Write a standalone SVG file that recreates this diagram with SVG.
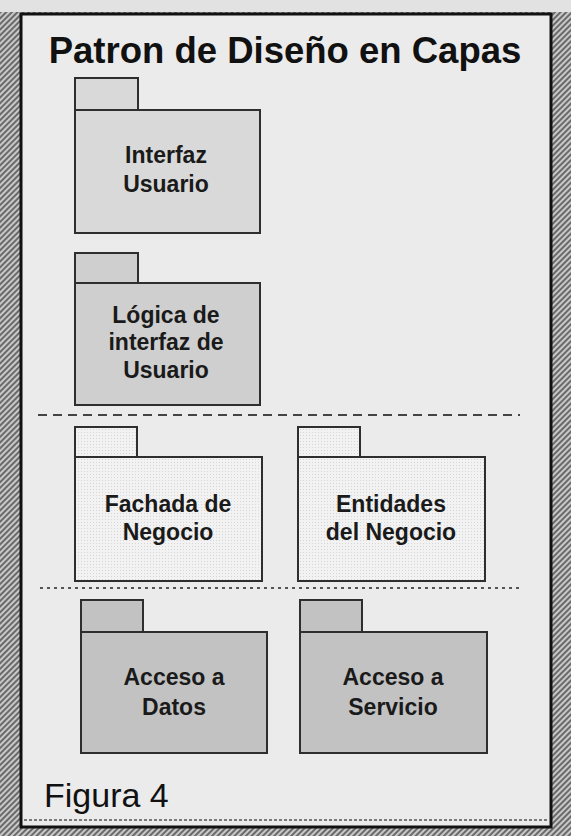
<svg xmlns="http://www.w3.org/2000/svg" width="571" height="836" viewBox="0 0 571 836">
<defs>
<pattern id="hatch" width="4" height="4" patternUnits="userSpaceOnUse" patternTransform="rotate(45)">
<rect width="4" height="4" fill="#c8c8c8"/>
<rect width="2" height="4" fill="#6a6a6a"/>
</pattern>
<pattern id="dots" width="3" height="3" patternUnits="userSpaceOnUse">
<rect width="3" height="3" fill="#f2f2f2"/>
<rect width="1" height="1" fill="#d6d6d6"/>
</pattern>
</defs>
<style>
.pk{stroke:#2e2e2e;stroke-width:2;}
.light{fill:#d9d9d9;}
.mid{fill:#cfcfcf;}
.white{fill:url(#dots);}
.dark{fill:#c2c2c2;}
.lbl{font-family:"Liberation Sans",Arial,sans-serif;font-weight:bold;font-size:23px;fill:#1a1a1a;text-anchor:middle;}
</style>
<rect x="0" y="0" width="571" height="836" fill="url(#hatch)"/>
<rect x="0" y="0" width="571" height="12" fill="#e2e2e2"/>
<rect x="21" y="14" width="530" height="813" fill="#ebebeb" stroke="#111" stroke-width="3"/>
<line x1="24" y1="820" x2="549" y2="820" stroke="#555" stroke-width="1.5" stroke-dasharray="3 2"/>
<text x="285" y="63" font-family="Liberation Sans, Arial, sans-serif" font-weight="bold" font-size="36.5" fill="#111" text-anchor="middle">Patron de Diseño en Capas</text>
<g id="interfaz-usuario">
<rect class="pk light" x="75" y="78" width="63" height="32"/>
<rect class="pk light" x="75" y="110" width="185" height="123"/>
<text class="lbl" x="166" y="163">Interfaz</text>
<text class="lbl" x="166" y="192">Usuario</text>
</g>
<g id="logica-interfaz">
<rect class="pk mid" x="75" y="253" width="63" height="30"/>
<rect class="pk mid" x="75" y="283" width="185" height="122"/>
<text class="lbl" x="166" y="323">Lógica de</text>
<text class="lbl" x="166" y="350">interfaz de</text>
<text class="lbl" x="166" y="378">Usuario</text>
</g>
<g id="separadores">
<line x1="38" y1="415" x2="520" y2="415" stroke="#444" stroke-width="2" stroke-dasharray="9 6"/>
<line x1="40" y1="588" x2="520" y2="588" stroke="#555" stroke-width="2" stroke-dasharray="3 4"/>
</g>
<g id="fachada-negocio">
<rect class="pk white" x="75" y="427" width="62" height="30"/>
<rect class="pk white" x="75" y="457" width="187" height="124"/>
<text class="lbl" x="168" y="512">Fachada de</text>
<text class="lbl" x="168" y="540">Negocio</text>
</g>
<g id="entidades-negocio">
<rect class="pk white" x="298" y="427" width="62" height="30"/>
<rect class="pk white" x="298" y="457" width="187" height="124"/>
<text class="lbl" x="391" y="512">Entidades</text>
<text class="lbl" x="391" y="540">del Negocio</text>
</g>
<g id="acceso-datos">
<rect class="pk dark" x="81" y="600" width="62" height="32"/>
<rect class="pk dark" x="81" y="632" width="186" height="121"/>
<text class="lbl" x="174" y="685">Acceso a</text>
<text class="lbl" x="174" y="715">Datos</text>
</g>
<g id="acceso-servicio">
<rect class="pk dark" x="300" y="600" width="62" height="32"/>
<rect class="pk dark" x="300" y="632" width="187" height="121"/>
<text class="lbl" x="393" y="685">Acceso a</text>
<text class="lbl" x="393" y="715">Servicio</text>
</g>
<text x="44" y="807" font-family="Liberation Sans, Arial, sans-serif" font-size="34" fill="#111">Figura 4</text>
</svg>
